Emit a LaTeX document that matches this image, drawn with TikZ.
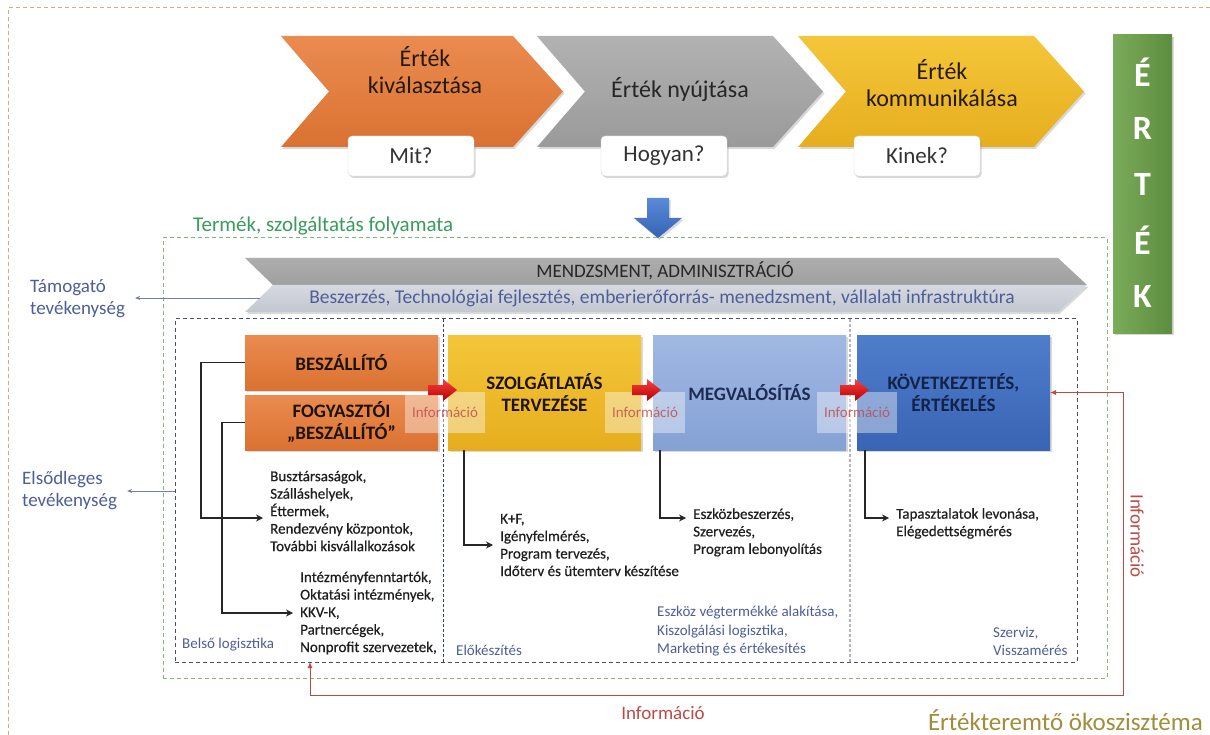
\documentclass[tikz,border=0pt]{standalone}
\usepackage{fontspec}
\setmainfont{Carlito}
\newfontfamily\listfont[FakeBold=0.5]{Carlito}
\usetikzlibrary{arrows.meta,shadows,calc}

\definecolor{tanline}{HTML}{C8B27E}
\definecolor{procgreen}{HTML}{7DB87D}
\definecolor{proctext}{HTML}{3A9B5C}
\definecolor{slate}{HTML}{4E5E98}
\definecolor{innerline}{HTML}{4A5064}
\definecolor{navydiv}{HTML}{34427A}
\definecolor{lightdiv}{HTML}{B9B3C6}
\definecolor{orA}{HTML}{EB8B4F}
\definecolor{orB}{HTML}{D97232}
\definecolor{grA}{HTML}{B2B2B2}
\definecolor{grB}{HTML}{9A9A9A}
\definecolor{yeA}{HTML}{F5C63A}
\definecolor{yeB}{HTML}{E5AE1E}
\definecolor{lbA}{HTML}{A0B8E3}
\definecolor{lbB}{HTML}{85A1D5}
\definecolor{dbA}{HTML}{4E7DCC}
\definecolor{dbB}{HTML}{3A64B4}
\definecolor{blA}{HTML}{5A8AD8}
\definecolor{blB}{HTML}{3563B4}
\definecolor{infored}{HTML}{BE4A46}
\definecolor{ecoolive}{HTML}{A08E3A}
\definecolor{greenA}{HTML}{7BAC5A}
\definecolor{greenB}{HTML}{5C8C3E}
\definecolor{mgA}{HTML}{ADADAD}
\definecolor{mgB}{HTML}{A0A0A0}
\definecolor{slA}{HTML}{D6D9E0}
\definecolor{slB}{HTML}{C3C7D0}

\newcommand\fsz[2]{\fontsize{#1}{#2}\selectfont}

\begin{document}
\begin{tikzpicture}[x=1pt,y=-1pt,
  softshadow/.style={drop shadow={shadow xshift=1.5pt,shadow yshift=-2pt,opacity=0.3}},
  chevtxt/.style={align=center,font=\fsz{24}{27},text=black!85,inner sep=0pt},
  qbox/.style={draw=black!18,fill=white,rounded corners=4pt,minimum width=126pt,minimum height=40pt,
    inner sep=0pt,font=\fsz{23}{26},text=black!80,softshadow},
  procbox/.style={minimum width=193pt,minimum height=55pt,anchor=north west,inner sep=0pt,outer sep=0pt,
    align=center,font=\fsz{19}{22}\bfseries,softshadow},
  infolbl/.style={minimum width=80pt,minimum height=41pt,inner sep=0pt,fill=white,fill opacity=0.4,
    text opacity=0.8,text=infored,font=\fsz{15}{18}},
  listtxt/.style={anchor=west,align=left,inner sep=0pt,font=\listfont\fsz{15}{17.5},text=black!88},
  slatetxt/.style={anchor=west,align=left,inner sep=0pt,font=\fsz{15}{18.5},text=slate},
  sidetxt/.style={anchor=west,align=left,inner sep=0pt,font=\fsz{19}{22},text=slate},
  conn/.style={line width=1.8pt,draw=black!85,-{Stealth[length=7pt,width=7pt]},shorten >=7pt},
  sidearr/.style={line width=0.8pt,draw=slate!80,-{Stealth[length=5pt,width=4pt]}},
  infoarr/.style={line width=0.8pt,draw=infored,{Latex[length=6pt,width=5pt]}-{Latex[length=6pt,width=5pt]}},
  redblk/.style={top color=red!75!white,bottom color=red!70!black,draw=none}
]
\useasboundingbox (0,0) rectangle (1210,735);
\fill[white] (0,0) rectangle (1210,735);

% outer frame of the ecosystem
\draw[tanline,line width=1pt,dash pattern=on 4pt off 3pt] (8,735) -- (8,8) -- (1210,8);

% value chevrons
\path[top color=orA,bottom color=orB,softshadow]
  (281,36) -- (513,36) -- (563,91.5) -- (513,147) -- (281,147) -- (329,91.5) -- cycle;
\path[top color=grA,bottom color=grB,softshadow]
  (537,36) -- (773,36) -- (823,91.5) -- (773,147) -- (537,147) -- (585,91.5) -- cycle;
\path[top color=yeA,bottom color=yeB,softshadow]
  (798,36) -- (1034,36) -- (1084,91.5) -- (1034,147) -- (798,147) -- (846,91.5) -- cycle;

\node[chevtxt,text=black!80!brown] (v1) at (425,70) {Érték\\kiválasztása};
\node[chevtxt] (v2) at (680,90) {Érték nyújtása};
\node[chevtxt,text=black!80!brown] (v3) at (942,83) {Érték\\kommunikálása};

\node[qbox] (q1) at (411,156) {Mit?};
\node[qbox] (q2) at (664,156) {Hogyan?};
\node[qbox] (q3) at (917,156) {Kinek?};

% block arrow down into the process
\path[top color=blA,bottom color=blB,softshadow]
  (647,198) -- (669,198) -- (669,218) -- (682,218) -- (658,238) -- (634,218) -- (647,218) -- cycle;

% product / service process frame
\node[draw=procgreen,line width=1pt,dash pattern=on 4pt off 3pt,minimum width=944pt,minimum height=440pt,
  anchor=north west,inner sep=0pt,outer sep=0pt] (proc) at (163,238) {};
\node[anchor=west,inner sep=0pt,font=\fsz{21}{24},text=proctext] (proclbl) at (193,226)
  {Termék, szolgáltatás folyamata};

% vertical value bar
\node[minimum width=59pt,minimum height=298pt,anchor=north west,inner sep=0pt,outer sep=0pt,
  left color=greenA,right color=greenB,softshadow] (ertek) at (1113,35) {};
\foreach \ch/\yy [count=\i] in {É/72,R/128,T/184,É/240,K/296}
  \node[font=\fsz{34}{36}\bfseries,text=white,inner sep=0pt] (ertek\i) at (1142.5,\yy) {\ch};

% management / support activities bar
\path[top color=mgA,bottom color=mgB]
  (245,258) -- (1058,258) -- (1087,285) -- (273,285) -- cycle;
\path[top color=slA,bottom color=slB,softshadow]
  (273,285) -- (1087,285) -- (1058,312) -- (245,312) -- cycle;
\node[font=\fsz{19}{22},text=black!85,inner sep=0pt] (mgmt) at (665,271) {MENDZSMENT, ADMINISZTRÁCIÓ};
\node[font=\fsz{19.5}{22},text=slate,inner sep=0pt] (mgmtsub) at (662,298)
  {Beszerzés, Technológiai fejlesztés, emberierőforrás- menedzsment, vállalati infrastruktúra};

% side labels
\node[sidetxt] (supl) at (30,299) {Támogató\\tevékenység};
\node[sidetxt] (priml) at (22,491) {Elsődleges\\tevékenység};
\coordinate (mgmtL) at (260,298);
\draw[sidearr,shorten >=10pt] (mgmtL) -- (mgmtL -| supl.east);

% primary activities frame
\node[draw=innerline,line width=1pt,dash pattern=on 4pt off 3pt,minimum width=902pt,minimum height=343pt,
  anchor=north west,inner sep=0pt,outer sep=0pt] (inner) at (175,319) {};
\draw[sidearr,shorten >=10pt] (inner.west |- priml.east) -- (priml.east);
\draw[navydiv,line width=1pt,dash pattern=on 3pt off 2pt] (443,319) -- (443,662);
\draw[lightdiv,line width=1.2pt,dash pattern=on 3pt off 2pt] (850,319) -- (850,662);

% process steps
\node[procbox,top color=orA,bottom color=orB,text=black!85!brown] (besz) at (245,335) {BESZÁLLÍTÓ};
\node[procbox,top color=orA,bottom color=orB,text=black!85!brown] (fogy) at (245,395)
  {FOGYASZTÓI\\„BESZÁLLÍTÓ”};
\node[procbox,minimum height=115pt,top color=yeA,bottom color=yeB,text=black!85!brown] (szolg) at (448,335)
  {SZOLGÁTLATÁS\\TERVEZÉSE};
\node[procbox,minimum height=115pt,top color=lbA,bottom color=lbB,text={rgb,255:red,30;green,43;blue,85}] (megv) at (653,335)
  {MEGVALÓSÍTÁS};
\node[procbox,minimum height=115pt,top color=dbA,bottom color=dbB,text={rgb,255:red,19;green,34;blue,72}] (kov) at (857,335)
  {KÖVETKEZTETÉS,\\ÉRTÉKELÉS};

% information hand-overs between steps
\node[infolbl] (inf1) at (445,412.5) {Információ};
\node[infolbl] (inf2) at (645,412.5) {Információ};
\node[infolbl] (inf3) at (857,412.5) {Információ};
\foreach \x in {428,632,840}
  \path[redblk] (\x,385) -- (\x+15,385) -- (\x+15,379) -- (\x+29,390) -- (\x+15,401) -- (\x+15,395) -- (\x,395) -- cycle;

% activity lists
\node[listtxt] (list1) at (270,511)
  {Busztársaságok,\\Szálláshelyek,\\Éttermek,\\Rendezvény központok,\\További kisvállalkozások};
\node[listtxt] (list2) at (300,613)
  {Intézményfenntartók,\\Oktatási intézmények,\\KKV-K,\\Partnercégek,\\Nonprofit szervezetek,};
\node[listtxt] (list3) at (500,545)
  {K+F,\\Igényfelmérés,\\Program tervezés,\\Időterv és ütemterv készítése};
\node[listtxt] (list4) at (693,532.5) {Eszközbeszerzés,\\Szervezés,\\Program lebonyolítás};
\node[listtxt] (list5) at (896,523.5) {Tapasztalatok levonása,\\Elégedettségmérés};

\draw[conn] (besz.west) -- ++(-44,0) |- ([yshift=-7pt]list1.west);
\draw[conn] (fogy.west) -- ++(-23,0) |- (list2.west);
\draw[conn] ($(szolg.south west)+(16,0)$) |- (list3.west);
\draw[conn] ($(megv.south west)+(7,0)$) |- ([yshift=14.5pt]list4.west);
\draw[conn] ($(kov.south west)+(8,0)$) |- ([yshift=5.5pt]list5.west);

% phase labels
\node[slatetxt] (belso) at (182,645) {Belső logisztika};
\node[slatetxt] (elok) at (456,650) {Előkészítés};
\node[slatetxt] (kiszolg) at (657,631.5)
  {Eszköz végtermékké alakítása,\\Kiszolgálási logisztika,\\Marketing és értékesítés};
\node[slatetxt] (szerviz) at (993,641.5) {Szerviz,\\Visszamérés};

% information feedback loop
\coordinate (infoR) at (1123,695);
\coordinate (infoB) at ($(inner.south west)+(135,0)$);
\draw[infoarr] (kov.east) -| (infoR) -| (infoB);
\node[font=\fsz{19}{22},text=infored,inner sep=0pt] (infbot) at (663,713) {Információ};
\node[font=\fsz{19}{22},text=infored,inner sep=0pt,rotate=-90] (infvert) at (1137,536) {Információ};

% ecosystem title
\node[anchor=base east,font=\fsz{25}{28},text=ecoolive,inner sep=0pt] (eco) at (1203,730) {Értékteremtő ökoszisztéma};
\end{tikzpicture}
\end{document}
